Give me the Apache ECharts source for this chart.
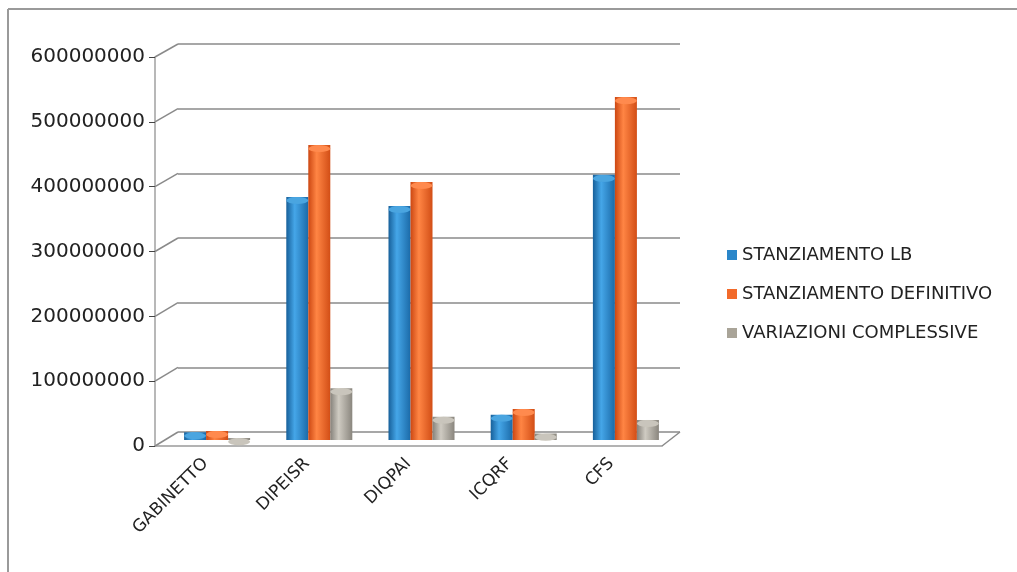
<!DOCTYPE html>
<html>
<head>
<meta charset="utf-8">
<script src="https://cdn.jsdelivr.net/npm/echarts@6/dist/echarts.min.js"></script>
<style>
    html, body { margin: 0; padding: 0; background: #fff; }
    #main { width: 1017px; height: 572px; }
</style>
</head>
<body>
<div id="main"></div>
<script>
var categories = ['GABINETTO', 'DIPEISR', 'DIQPAI', 'ICQRF', 'CFS'];
var seriesNames = ['STANZIAMENTO LB', 'STANZIAMENTO DEFINITIVO', 'VARIAZIONI COMPLESSIVE'];
var stanziamentoLB = [12000000, 375000000, 361000000, 39000000, 409000000];
var stanziamentoDef = [14000000, 455000000, 398000000, 48000000, 529000000];
var variazioni = [3000000, 80000000, 36000000, 10000000, 31000000];
var yMax = 600000000, yStep = 100000000;

// grid layouts: back wall, front axes, bars (middle depth)
var backGrid = {left: 178, right: 337, top: 44, bottom: 140};
var frontGrid = {left: 155, right: 355, top: 57, bottom: 126};
var barGrid = {left: 166, right: 340, top: 51, bottom: 132};

var baseColors = ['#2a86c9', '#f26a2a', '#a9a498'];
var shades = [
    ['#17609a', '#45a6e8', '#1b6aa8'],
    ['#cc4712', '#ff8544', '#d24e16'],
    ['#85817a', '#cfcbc2', '#8a867e']
];
var capColors = ['#4aa5e0', '#ff8a4e', '#c9c5bc'];

function bodyGradient(i) {
    return new echarts.graphic.LinearGradient(0, 0, 1, 0, [
        {offset: 0, color: shades[i][0]},
        {offset: 0.38, color: shades[i][1]},
        {offset: 1, color: shades[i][2]}
    ]);
}

var chart = echarts.init(document.getElementById('main'));
var values = [stanziamentoLB, stanziamentoDef, variazioni];
var series = [];
values.forEach(function(v, i) {
    series.push({
        name: seriesNames[i],
        type: 'bar',
        xAxisIndex: 2,
        yAxisIndex: 2,
        data: v,
        barWidth: 22,
        barGap: '0%',
        itemStyle: {color: bodyGradient(i)},
        z: 2
    });
});
values.forEach(function(v, i) {
    series.push({
        name: seriesNames[i] + ' cap',
        type: 'pictorialBar',
        xAxisIndex: 2,
        yAxisIndex: 2,
        data: v,
        barWidth: 22,
        barGap: '0%',
        symbol: 'circle',
        symbolSize: [22, 7],
        symbolPosition: 'end',
        symbolOffset: [0, 0],
        itemStyle: {color: capColors[i], borderColor: shades[i][0], borderWidth: 0.5},
        z: 3
    });
});

var font = 'DejaVu Sans';
var option = {
    animation: false,
    backgroundColor: '#fff',
    grid: [backGrid, frontGrid, barGrid],
    legend: {
        orient: 'vertical',
        left: 722,
        top: 241,
        itemWidth: 10,
        itemHeight: 10,
        itemGap: 21,
        icon: 'rect',
        textStyle: {color: '#222', fontSize: 18, fontFamily: font},
        data: seriesNames.map(function(n, i) {
            return {name: n, itemStyle: {color: baseColors[i]}};
        })
    },
    xAxis: [
        {gridIndex: 0, type: 'category', data: categories, show: false},
        {
            gridIndex: 1, type: 'category', data: categories,
            axisLine: {lineStyle: {color: '#9a9a9a', width: 1.5}},
            axisTick: {length: 6, lineStyle: {color: '#555'}},
            axisLabel: {rotate: 45, color: '#222', fontSize: 17, fontFamily: font, margin: 15}
        },
        {gridIndex: 2, type: 'category', data: categories, show: false}
    ],
    yAxis: [
        {
            gridIndex: 0, type: 'value', min: 0, max: yMax, interval: yStep,
            axisLine: {show: false}, axisTick: {show: false}, axisLabel: {show: false},
            splitLine: {lineStyle: {color: '#8a8a8a', width: 1.5}}
        },
        {
            gridIndex: 1, type: 'value', min: 0, max: yMax, interval: yStep,
            axisLine: {show: true, lineStyle: {color: '#a0a0a0', width: 1.5}},
            axisTick: {show: true, length: 6, lineStyle: {color: '#444'}},
            splitLine: {show: false},
            axisLabel: {
                color: '#222', fontSize: 20, fontFamily: font, margin: 10,
                formatter: function(val) { return String(val); }
            }
        },
        {gridIndex: 2, type: 'value', min: 0, max: yMax, interval: yStep, show: false, splitLine: {show: false}}
    ],
    series: series
};
chart.setOption(option);

// 3D wall connectors from the front axis to the back wall gridlines
var graphics = [
    {type: 'line', shape: {x1: 8, y1: 9, x2: 1017, y2: 9}, style: {stroke: '#9a9a9a', lineWidth: 2}},
    {type: 'line', shape: {x1: 8, y1: 9, x2: 8, y2: 572}, style: {stroke: '#9a9a9a', lineWidth: 2}}
];
for (var v = 0; v <= yMax; v += yStep) {
    var yf = chart.convertToPixel({yAxisIndex: 1}, v);
    var yb = chart.convertToPixel({yAxisIndex: 0}, v);
    graphics.push({
        type: 'line', z: 1,
        shape: {x1: frontGrid.left, y1: yf, x2: backGrid.left, y2: yb},
        style: {stroke: '#8a8a8a', lineWidth: 1.5}
    });
}
var y0f = chart.convertToPixel({yAxisIndex: 1}, 0);
var y0b = chart.convertToPixel({yAxisIndex: 0}, 0);
graphics.push({
    type: 'line', z: 1,
    shape: {x1: 1017 - frontGrid.right, y1: y0f, x2: 1017 - backGrid.right, y2: y0b},
    style: {stroke: '#8a8a8a', lineWidth: 1.5}
});
chart.setOption({graphic: graphics});
</script>
</body>
</html>
